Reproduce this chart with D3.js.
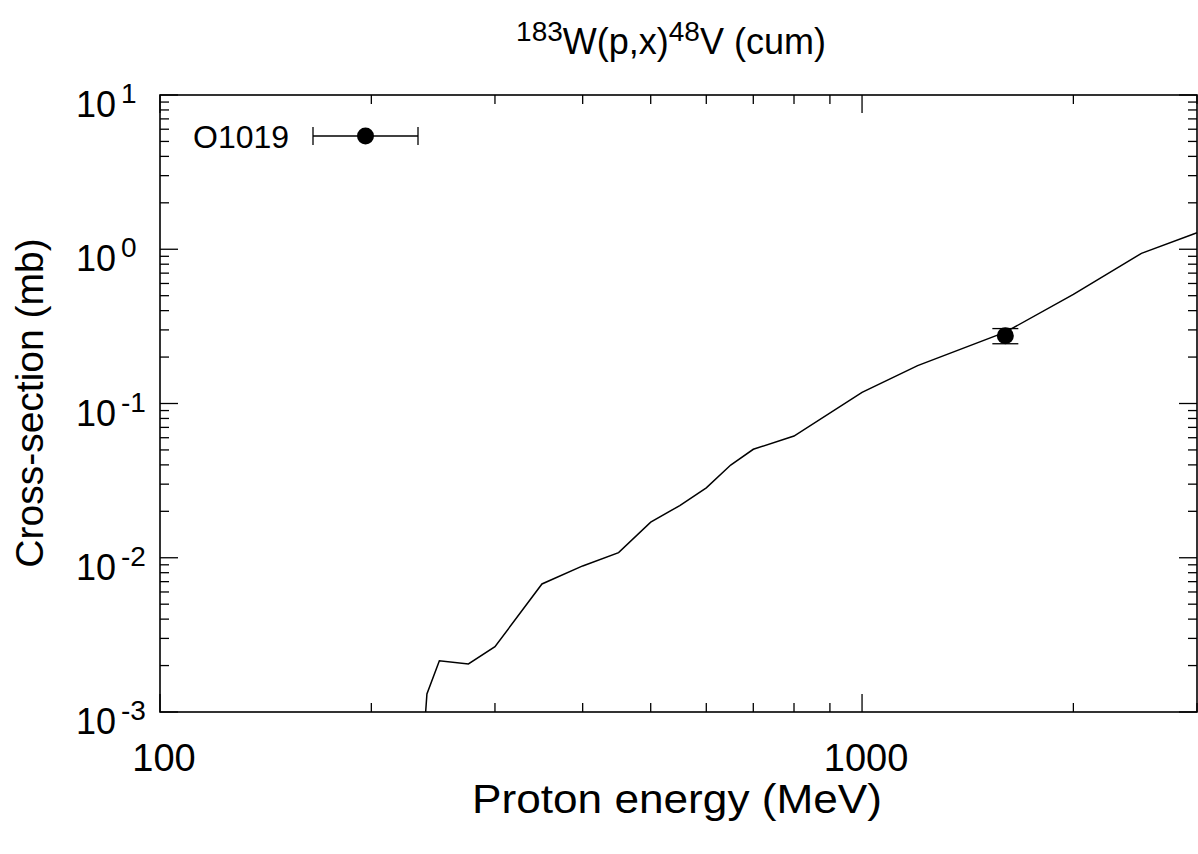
<!DOCTYPE html>
<html>
<head>
<meta charset="utf-8">
<script src="https://cdn.jsdelivr.net/npm/d3@7"></script>
<style>
  html, body { margin: 0; padding: 0; background: #fff; }
  svg { display: block; }
  text { font-family: "Liberation Sans", Arial, sans-serif; fill: #000; }
</style>
</head>
<body>
<svg id="chart" width="1198" height="854"></svg>
<script>
// ---- data ----
const modelEnergy = [239, 240, 250, 275, 300, 350, 400, 450, 500, 550, 600, 650, 700, 800, 1000, 1200, 1600, 2000, 2500, 3000];
const modelXs     = [0.001, 0.00131, 0.00215, 0.00205, 0.00265, 0.00676, 0.00885, 0.0108, 0.0170, 0.0218, 0.0284, 0.0399, 0.0505, 0.0615, 0.118, 0.176, 0.290, 0.51, 0.94, 1.28];
const expEnergy = [1600];
const expXs     = [0.275];
const expErr    = [0.031];
const legendLabel = "O1019";
const xMajorTicks = [100, 1000];
const xMinorTicks = [200, 300, 400, 500, 600, 700, 800, 900, 2000, 3000];
const yMajorExponents = [1, 0, -1, -2, -3];
const titleParts = ["183", "W(p,x)", "48", "V (cum)"];
const xLabel = "Proton energy (MeV)";
const yLabel = "Cross-section (mb)";

// ---- layout ----
const L = 160, R = 1197, T = 95, B = 712;
const svg = d3.select("#chart");
const x = d3.scaleLog().domain([100, 3000]).range([L, R]);
const y = d3.scaleLog().domain([1e-3, 10]).range([B, T]);

const yMinor = [];
for (let e = -3; e < 1; e++) for (let m = 2; m <= 9; m++) yMinor.push(m * Math.pow(10, e));

const tickG = svg.append("g").attr("stroke", "#000").attr("stroke-width", 1.3);
const majLen = 18, minLen = 9;
// x ticks (bottom & top)
xMajorTicks.concat(xMinorTicks).forEach(v => {
  const len = xMajorTicks.includes(v) ? majLen : minLen;
  const px = x(v);
  tickG.append("line").attr("x1", px).attr("x2", px).attr("y1", B).attr("y2", B - len);
  tickG.append("line").attr("x1", px).attr("x2", px).attr("y1", T).attr("y2", T + len);
});
// y ticks (left & right)
yMajorExponents.map(e => Math.pow(10, e)).concat(yMinor).forEach((v, i) => {
  const len = i < yMajorExponents.length ? majLen : minLen;
  const py = y(v);
  tickG.append("line").attr("x1", L).attr("x2", L + len).attr("y1", py).attr("y2", py);
  tickG.append("line").attr("x1", R).attr("x2", R - len).attr("y1", py).attr("y2", py);
});

// frame
svg.append("rect").attr("x", L).attr("y", T).attr("width", R - L).attr("height", B - T)
  .attr("fill", "none").attr("stroke", "#000").attr("stroke-width", 1.6);

// x tick labels
xMajorTicks.forEach(v => {
  svg.append("text").attr("x", x(v) + 4).attr("y", 771).attr("text-anchor", "middle")
    .attr("font-size", 38).text(d3.format("d")(v));
});
// y tick labels (gnuplot-style: all start at the same left edge)
yMajorExponents.forEach(e => {
  const t = svg.append("text").attr("x", 76).attr("y", y(Math.pow(10, e)) + 22)
    .attr("text-anchor", "start").attr("font-size", 36);
  t.append("tspan").text("10");
  t.append("tspan").attr("dx", 5).attr("dy", -14).attr("font-size", 28).text(String(e));
});

// model curve
const line = d3.line().x(d => x(d[0])).y(d => y(d[1]));
svg.append("path").datum(modelEnergy.map((e, i) => [e, modelXs[i]]))
  .attr("d", line).attr("fill", "none").attr("stroke", "#000").attr("stroke-width", 1.5);

// experimental point with error bar
expEnergy.forEach((e, i) => {
  const px = x(e), lo = y(expXs[i] - expErr[i]), hi = y(expXs[i] + expErr[i]);
  const g = svg.append("g").attr("stroke", "#000").attr("stroke-width", 1.3);
  g.append("line").attr("x1", px).attr("x2", px).attr("y1", lo).attr("y2", hi);
  g.append("line").attr("x1", px - 13).attr("x2", px + 13).attr("y1", lo).attr("y2", lo);
  g.append("line").attr("x1", px - 13).attr("x2", px + 13).attr("y1", hi).attr("y2", hi);
  svg.append("circle").attr("cx", px).attr("cy", y(expXs[i])).attr("r", 8.5).attr("fill", "#000");
});

// legend
const lg = svg.append("g");
lg.append("text").attr("x", 193).attr("y", 148).attr("font-size", 32).text(legendLabel);
const lgl = lg.append("g").attr("stroke", "#000").attr("stroke-width", 1.3);
lgl.append("line").attr("x1", 313).attr("x2", 418).attr("y1", 136).attr("y2", 136);
lgl.append("line").attr("x1", 313).attr("x2", 313).attr("y1", 127).attr("y2", 145);
lgl.append("line").attr("x1", 418).attr("x2", 418).attr("y1", 127).attr("y2", 145);
lg.append("circle").attr("cx", 365.5).attr("cy", 136).attr("r", 8.5).attr("fill", "#000");

// title
const tt = svg.append("text").attr("x", 671).attr("y", 54).attr("text-anchor", "middle").attr("font-size", 36);
tt.append("tspan").attr("font-size", 28).attr("dy", -13).text(titleParts[0]);
tt.append("tspan").attr("dy", 13).text(titleParts[1]);
tt.append("tspan").attr("font-size", 28).attr("dy", -13).text(titleParts[2]);
tt.append("tspan").attr("dy", 13).text(titleParts[3]);

// axis labels
svg.append("text").attr("x", 677).attr("y", 813).attr("text-anchor", "middle").attr("font-size", 40)
  .attr("textLength", 410).attr("lengthAdjust", "spacingAndGlyphs").text(xLabel);
svg.append("text").attr("transform", "translate(43,403) rotate(-90)").attr("text-anchor", "middle")
  .attr("font-size", 39).text(yLabel);
</script>
</body>
</html>
